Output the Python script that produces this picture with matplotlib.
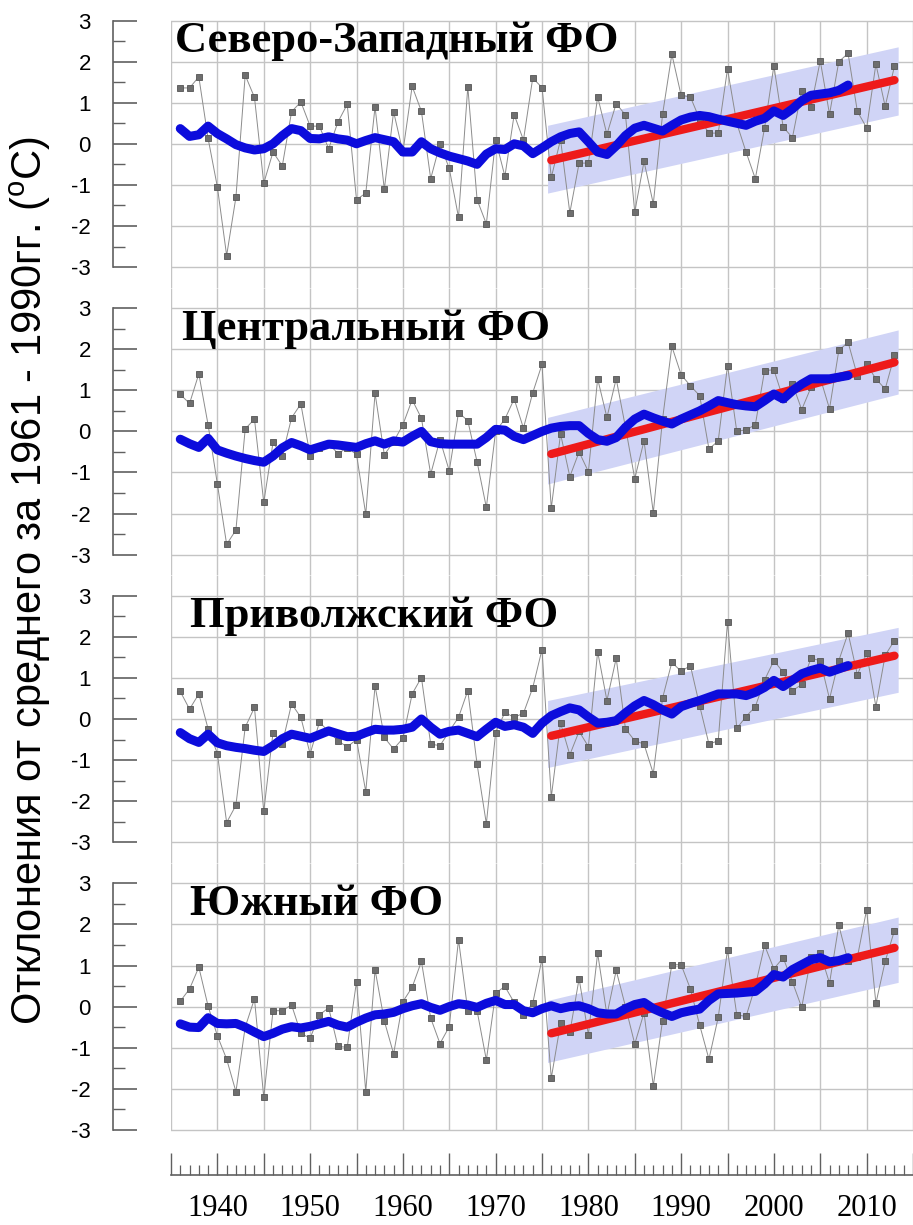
import numpy as np
import matplotlib
matplotlib.use("Agg")
import matplotlib.pyplot as plt
from matplotlib.ticker import MultipleLocator, FixedLocator, FuncFormatter

plt.rcParams['axes.unicode_minus'] = False
plt.rcParams['mathtext.fontset'] = 'custom'
plt.rcParams['mathtext.rm'] = 'Liberation Sans'

years = np.arange(1936, 2014)
smooth_years = np.arange(1936, 2009)
trend_years = [1976, 2013]

titles = ["Северо-Западный ФО", "Центральный ФО", "Приволжский ФО", "Южный ФО"]
title_x = [1935.4, 1936.2, 1937.0, 1937.0]

# annual anomalies 1936..2013
nw = [1.36, 1.36, 1.63, 0.13, -1.05, -2.72, -1.30, 1.67, 1.13, -0.96,
      -0.2, -0.54, 0.78, 1.02, 0.43, 0.43, -0.12, 0.53, 0.96, -1.36,
      -1.2, 0.9, -1.11, 0.78, -0.2, 1.4, 0.79, -0.85, 0.0, -0.6,
      -1.79, 1.39, -1.36, -1.95, 0.09, -0.79, 0.71, 0.09, 1.6, 1.37,
      -0.82, 0.1, -1.68, -0.47, -0.47, 1.14, 0.23, 0.98, 0.7, -1.66,
      -0.43, -1.46, 0.72, 2.18, 1.18, 1.14, 0.6, 0.26, 0.26, 1.82,
      0.5, -0.2, -0.85, 0.39, 1.9, 0.41, 0.15, 1.29, 0.9, 2.02,
      0.72, 2.0, 2.2, 0.79, 0.39, 1.94, 0.91, 1.89]
central = [0.9, 0.68, 1.4, 0.16, -1.28, -2.75, -2.4, 0.06, 0.3, -1.73,
           -0.27, -0.59, 0.33, 0.67, -0.59, -0.4, -0.3, -0.54, -0.4, -0.56,
           -2.02, 0.93, -0.57, -0.25, 0.16, 0.77, 0.32, -1.04, -0.2, -0.96,
           0.46, 0.26, -0.74, -1.85, 0.0, 0.3, 0.79, 0.08, 0.94, 1.63,
           -1.87, -0.06, -1.1, -0.5, -0.98, 1.28, 0.34, 1.28, 0.1, -1.15,
           -0.23, -1.98, 0.3, 2.07, 1.38, 1.11, 0.87, -0.43, -0.23, 1.6,
           0.0, 0.04, 0.16, 1.48, 1.5, 0.8, 1.16, 0.53, 1.07, 1.3,
           0.55, 1.97, 2.17, 1.36, 1.63, 1.28, 1.03, 1.85]
volga = [0.67, 0.24, 0.61, -0.24, -0.84, -2.52, -2.1, -0.2, 0.28, -2.25,
         -0.33, -0.6, 0.37, 0.04, -0.85, -0.08, -0.3, -0.53, -0.68, -0.5,
         -1.77, 0.81, -0.45, -0.73, -0.47, 0.61, 1.01, -0.61, -0.65, -0.3,
         0.04, 0.69, -1.1, -2.55, -0.33, 0.16, 0.04, 0.14, 0.76, 1.69,
         -1.9, -0.1, -0.87, -0.3, -0.67, 1.64, 0.45, 1.48, -0.24, -0.53,
         -0.61, -1.33, 0.51, 1.38, 1.16, 1.3, 0.32, -0.61, -0.53, 2.36,
         -0.23, 0.06, 0.3, 0.95, 1.42, 1.14, 0.69, 0.84, 1.48, 1.42,
         0.49, 1.42, 2.09, 1.08, 1.6, 0.3, 1.55, 1.91]
south = [0.13, 0.43, 0.96, 0.01, -0.71, -1.28, -2.07, -0.5, 0.19, -2.21,
         -0.1, -0.1, 0.04, -0.65, -0.77, -0.2, -0.03, -0.97, -0.99, 0.61,
         -2.07, 0.9, -0.35, -1.15, 0.12, 0.47, 1.1, -0.28, -0.9, -0.49,
         1.63, -0.1, -0.1, -1.3, 0.33, 0.49, 0.1, -0.2, 0.08, 1.16,
         -1.74, -0.41, -0.63, 0.68, -0.68, 1.3, -0.2, 0.88, 0.0, -0.91,
         -0.15, -1.93, -0.34, 1.02, 1.02, 0.43, -0.45, -1.28, -0.26, 1.38,
         -0.2, -0.24, 0.5, 1.49, 0.92, 1.19, 0.6, -0.02, 1.2, 1.3,
         0.57, 1.98, 1.1, 1.2, 2.36, 0.08, 1.1, 1.85]

# smoothed curves 1936..2008
nw_smooth = [0.37, 0.18, 0.22, 0.43, 0.25, 0.12, -0.02, -0.1, -0.15, -0.12,
             0.0, 0.2, 0.37, 0.32, 0.13, 0.12, 0.17, 0.12, 0.09, 0.0,
             0.08, 0.15, 0.1, 0.05, -0.2, -0.2, 0.05, -0.12, -0.22, -0.3,
             -0.36, -0.42, -0.5, -0.25, -0.12, -0.14, 0.0, -0.05, -0.24, -0.1,
             0.05, 0.17, 0.25, 0.29, 0.05, -0.2, -0.26, -0.05, 0.2, 0.38,
             0.45, 0.38, 0.31, 0.45, 0.58, 0.65, 0.69, 0.66, 0.6, 0.55,
             0.5, 0.45, 0.55, 0.62, 0.8, 0.69, 0.85, 1.05, 1.18, 1.21,
             1.24, 1.3, 1.43]
central_smooth = [-0.19, -0.3, -0.39, -0.17, -0.45, -0.53, -0.6, -0.66, -0.71, -0.75,
                  -0.6, -0.4, -0.27, -0.35, -0.45, -0.38, -0.31, -0.33, -0.36, -0.39,
                  -0.3, -0.23, -0.31, -0.23, -0.26, -0.12, 0.0, -0.25, -0.3, -0.31,
                  -0.31, -0.31, -0.31, -0.15, 0.05, 0.03, -0.12, -0.2, -0.1, 0.0,
                  0.08, 0.12, 0.14, 0.14, -0.05, -0.2, -0.24, -0.15, 0.1, 0.3,
                  0.42, 0.33, 0.25, 0.18, 0.3, 0.4, 0.5, 0.62, 0.75, 0.7,
                  0.65, 0.62, 0.6, 0.75, 0.91, 0.79, 0.99, 1.15, 1.28, 1.28,
                  1.28, 1.32, 1.36]
volga_smooth = [-0.33, -0.48, -0.57, -0.37, -0.58, -0.65, -0.69, -0.72, -0.76, -0.79,
                -0.65, -0.48, -0.37, -0.42, -0.47, -0.38, -0.29, -0.36, -0.43, -0.42,
                -0.33, -0.25, -0.27, -0.27, -0.25, -0.2, 0.0, -0.2, -0.37, -0.3,
                -0.27, -0.35, -0.43, -0.25, -0.08, -0.18, -0.14, -0.2, -0.35, -0.1,
                0.08, 0.18, 0.27, 0.22, 0.05, -0.1, -0.08, -0.04, 0.15, 0.32,
                0.45, 0.35, 0.22, 0.12, 0.3, 0.38, 0.45, 0.53, 0.61, 0.61,
                0.61, 0.57, 0.65, 0.77, 0.94, 0.79, 0.94, 1.1, 1.18, 1.24,
                1.14, 1.22, 1.3]
south_smooth = [-0.42, -0.5, -0.51, -0.27, -0.41, -0.42, -0.41, -0.5, -0.62, -0.73,
                -0.65, -0.55, -0.49, -0.52, -0.48, -0.42, -0.36, -0.45, -0.5, -0.38,
                -0.28, -0.2, -0.18, -0.14, -0.05, 0.02, 0.07, -0.02, -0.09, 0.0,
                0.07, 0.04, -0.02, 0.08, 0.15, 0.05, 0.05, -0.1, -0.15, -0.05,
                0.02, -0.05, 0.0, 0.02, -0.05, -0.15, -0.18, -0.18, -0.05, 0.05,
                0.1, -0.05, -0.15, -0.24, -0.15, -0.1, -0.06, 0.15, 0.31, 0.32,
                0.33, 0.35, 0.37, 0.55, 0.78, 0.72, 0.9, 1.02, 1.14, 1.19,
                1.09, 1.12, 1.19]

# linear trend 1976-2013 (start, end) and its band
trend = [[-0.4, 1.55], [-0.55, 1.68], [-0.41, 1.54], [-0.65, 1.43]]
band_years = [1975.6, 2013.4]
band_low = [[-1.2, 0.7], [-1.28, 0.91], [-1.18, 0.65], [-1.36, 0.59]]
band_high = [[0.45, 2.36], [0.34, 2.47], [0.45, 2.23], [0.15, 2.18]]

annual = [nw, central, volga, south]
smooth = [nw_smooth, central_smooth, volga_smooth, south_smooth]

W, H = 913, 1225
fig = plt.figure(figsize=(W / 100, H / 100), dpi=100)

left_px = 171
panel_h = 287.6
grid_c = '#c4c4c4'
axis_c = '#606060'

for i in range(4):
    top = i * panel_h
    ax = fig.add_axes([left_px / W, 1 - (top + panel_h) / H, (W - left_px) / W, panel_h / H])
    ax.set_xlim(1935, 2015)
    ax.set_ylim(-3.5, 3.5)

    for yv in range(-3, 4):
        ax.axhline(yv, color=grid_c, lw=1.0, zorder=0)
    ymin = -3.5
    ymax = 3.5
    if i == 0:
        ymax = 3
    if i == 3:
        ymin = -3
    ax.vlines(np.arange(1935, 2016, 5), ymin, ymax, color=grid_c, lw=1.0, zorder=0)

    ax.fill_between(band_years, band_low[i], band_high[i], color='#d0d4f6', lw=0, zorder=1)
    ax.plot(years, annual[i], color='#8c8c8c', lw=0.7, zorder=2)
    ax.plot(years, annual[i], ls='none', marker='s', ms=4.3, mfc='#6e6e6e', mec='#555555', mew=0.6, zorder=3)
    ax.plot(trend_years, trend[i], color='#ee1a1a', lw=6, solid_capstyle='round', zorder=4)
    ax.plot(smooth_years, smooth[i], color='#0c0cdc', lw=6.5, solid_capstyle='round',
            solid_joinstyle='round', zorder=5)

    ax.text(title_x[i], 2.5, titles[i], ha='left', va='center', fontsize=32,
            fontweight='bold', family='Liberation Serif', zorder=6)

    for s in ['top', 'right', 'bottom']:
        ax.spines[s].set_visible(False)
    ax.spines['left'].set_position(('outward', 58 * 0.72))
    ax.spines['left'].set_bounds(-3, 3)
    ax.spines['left'].set_color(axis_c)
    ax.spines['left'].set_linewidth(1.2)
    ax.set_yticks(range(-3, 4))
    ax.yaxis.set_minor_locator(FixedLocator([-2.5, -1.5, -0.5, 0.5, 1.5, 2.5]))
    ax.tick_params(axis='y', which='major', direction='in', length=17, width=1.2,
                   color=axis_c, pad=16, labelsize=16)
    ax.tick_params(axis='y', which='minor', direction='in', length=8.5, width=1.0, color=axis_c)
    ax.set_xticks([])
    ax.patch.set_alpha(0)
    for lab in ax.get_yticklabels():
        lab.set_family('Liberation Sans')

# year ruler at the bottom
rax = fig.add_axes([left_px / W, 1 - 1175 / H, (W - left_px) / W, 20 / H])
rax.set_xlim(1935, 2015)
rax.set_ylim(0, 1)
for s in ['top', 'right', 'left']:
    rax.spines[s].set_visible(False)
rax.spines['bottom'].set_color(axis_c)
rax.spines['bottom'].set_linewidth(1.2)
rax.set_yticks([])
rax.xaxis.set_major_locator(MultipleLocator(5))
rax.xaxis.set_minor_locator(MultipleLocator(1))
rax.xaxis.set_major_formatter(FuncFormatter(lambda v, p: f"{int(round(v))}" if int(round(v)) % 10 == 0 else ""))
rax.tick_params(axis='x', which='major', direction='in', length=16, width=1.0,
                color=axis_c, pad=14, labelsize=22)
rax.tick_params(axis='x', which='minor', direction='in', length=7, width=0.9, color=axis_c)
rax.patch.set_alpha(0)
for lab in rax.get_xticklabels():
    lab.set_family('Liberation Serif')

fig.text(30 / W, 1 - 580 / H, r'Отклонения от среднего за 1961 - 1990гг. ($^{\mathrm{o}}$C)',
         rotation=90, ha='center', va='center', fontsize=30, family='Liberation Sans')

fig.savefig('out.png', dpi=100)
